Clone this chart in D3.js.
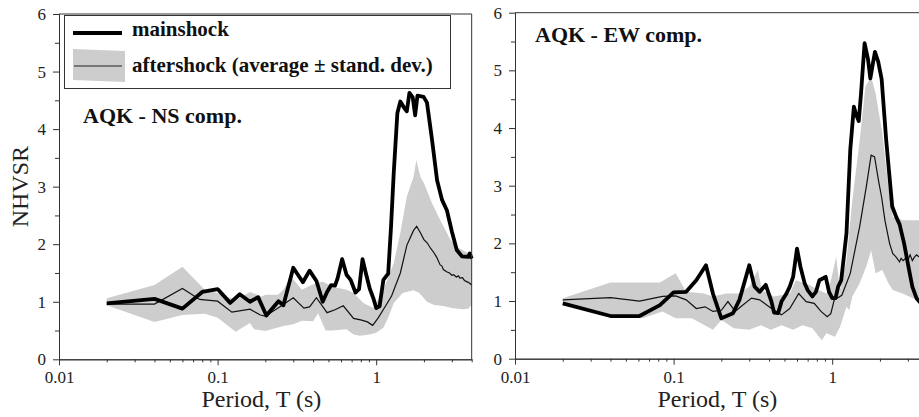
<!DOCTYPE html>
<html>
<head>
<meta charset="utf-8">
<script src="https://cdn.jsdelivr.net/npm/d3@7"></script>
<style>
  body { margin: 0; background: #fff; }
  svg { display: block; font-family: "Liberation Serif", "Times New Roman", serif; }
</style>
</head>
<body>
<svg id="chart" width="919" height="417"></svg>
<script>
// ---- data: [period T (s), NHVSR] ----
var nsMain = [[0.02,0.97],[0.04,1.05],[0.06,0.88],[0.08,1.17],[0.1,1.22],[0.12,0.98],[0.138,1.13],[0.16,1.0],[0.18,1.08],[0.203,0.76],[0.242,1.01],[0.26,0.94],[0.3,1.59],[0.345,1.34],[0.38,1.54],[0.42,1.36],[0.46,1.0],[0.49,1.17],[0.52,1.29],[0.55,1.28],[0.57,1.4],[0.61,1.74],[0.65,1.47],[0.69,1.38],[0.74,1.16],[0.78,1.22],[0.82,1.74],[0.86,1.5],[0.91,1.23],[0.96,1.06],[1.0,0.89],[1.05,0.92],[1.11,1.38],[1.19,1.49],[1.24,2.3],[1.29,3.24],[1.36,4.28],[1.42,4.48],[1.5,4.37],[1.56,4.31],[1.62,4.63],[1.7,4.55],[1.76,4.24],[1.82,4.58],[1.99,4.56],[2.09,4.46],[2.25,3.81],[2.42,3.11],[2.6,2.77],[2.79,2.59],[3.0,2.22],[3.22,1.9],[3.47,1.79],[3.8,1.78],[3.89,1.84],[4.0,1.75]];
var nsAfterMean = [[0.02,0.96],[0.04,0.96],[0.06,1.23],[0.077,1.04],[0.1,1.01],[0.123,0.82],[0.16,0.87],[0.186,0.77],[0.2,0.75],[0.246,0.91],[0.3,1.07],[0.35,0.89],[0.38,0.91],[0.42,1.07],[0.49,0.81],[0.55,0.86],[0.62,0.93],[0.72,0.71],[0.81,0.68],[0.88,0.65],[0.95,0.59],[1.03,0.72],[1.13,0.9],[1.25,1.1],[1.42,1.5],[1.56,1.98],[1.72,2.24],[1.8,2.31],[1.9,2.2],[2.0,2.08],[2.1,2.02],[2.2,1.93],[2.3,1.86],[2.4,1.78],[2.53,1.64],[2.6,1.62],[2.65,1.56],[2.78,1.52],[2.9,1.5],[3.0,1.46],[3.08,1.47],[3.2,1.43],[3.3,1.45],[3.37,1.41],[3.5,1.42],[3.6,1.37],[3.72,1.35],[3.85,1.33],[4.0,1.29]];
var nsBandUpper = [[0.02,1.06],[0.04,1.29],[0.06,1.61],[0.083,1.21],[0.1,1.15],[0.13,1.03],[0.16,1.17],[0.19,1.09],[0.2,1.12],[0.24,1.12],[0.26,1.21],[0.29,1.44],[0.34,1.21],[0.39,1.29],[0.46,1.35],[0.53,1.26],[0.65,1.21],[0.72,1.15],[0.83,0.98],[0.96,0.89],[1.11,1.21],[1.29,1.67],[1.42,2.2],[1.56,2.83],[1.72,3.17],[1.79,3.46],[1.9,3.17],[2.0,3.06],[2.25,2.71],[2.53,2.42],[2.95,2.07],[3.2,1.96],[4.0,1.81]];
var nsBandLower = [[0.02,0.94],[0.04,0.65],[0.06,0.77],[0.083,0.79],[0.1,0.72],[0.13,0.48],[0.16,0.63],[0.17,0.52],[0.2,0.49],[0.26,0.58],[0.3,0.61],[0.34,0.67],[0.4,0.66],[0.43,0.8],[0.48,0.5],[0.53,0.5],[0.65,0.52],[0.72,0.43],[0.79,0.41],[0.91,0.43],[1.0,0.46],[1.11,0.55],[1.2,0.75],[1.29,0.98],[1.47,1.15],[1.72,1.2],[1.87,1.15],[2.09,1.0],[2.3,0.95],[2.7,0.92],[3.0,0.89],[3.5,0.87],[3.8,0.88],[4.0,0.95]];

var ewMain = [[0.02,0.96],[0.04,0.74],[0.061,0.74],[0.082,0.93],[0.1,1.15],[0.12,1.16],[0.139,1.36],[0.16,1.62],[0.177,1.13],[0.2,0.7],[0.237,0.79],[0.26,1.02],[0.3,1.62],[0.324,1.25],[0.349,1.16],[0.381,1.28],[0.414,0.99],[0.43,0.8],[0.456,0.79],[0.479,0.99],[0.515,1.13],[0.54,1.25],[0.567,1.42],[0.6,1.91],[0.63,1.6],[0.67,1.31],[0.7,1.19],[0.75,1.08],[0.79,1.16],[0.83,1.36],[0.91,1.42],[0.955,1.16],[1.0,1.05],[1.05,1.05],[1.09,1.25],[1.14,1.36],[1.23,2.17],[1.3,3.62],[1.37,4.37],[1.42,4.22],[1.47,4.12],[1.52,4.6],[1.6,5.47],[1.68,5.2],[1.74,4.86],[1.8,5.1],[1.86,5.32],[1.95,5.15],[2.05,4.85],[2.19,3.79],[2.39,2.64],[2.54,2.45],[2.66,2.33],[2.84,2.0],[3.0,1.65],[3.2,1.25],[3.4,1.05],[3.6,0.97],[4.0,0.95]];
var ewAfterMean = [[0.02,1.02],[0.04,1.06],[0.061,1.0],[0.085,1.08],[0.103,1.09],[0.12,1.02],[0.139,0.87],[0.158,0.9],[0.177,0.82],[0.2,0.84],[0.22,0.99],[0.245,0.82],[0.265,0.9],[0.31,1.05],[0.349,1.02],[0.414,0.87],[0.479,0.76],[0.54,0.87],[0.615,1.13],[0.685,0.99],[0.77,0.96],[0.85,0.82],[0.93,0.73],[0.98,0.78],[1.03,1.02],[1.15,1.1],[1.3,1.48],[1.49,2.29],[1.64,2.98],[1.76,3.53],[1.85,3.5],[1.97,3.05],[2.05,2.8],[2.15,2.4],[2.3,2.0],[2.41,1.82],[2.5,1.78],[2.55,1.75],[2.66,1.68],[2.72,1.74],[2.8,1.7],[2.9,1.74],[3.0,1.71],[3.1,1.8],[3.2,1.7],[3.3,1.76],[3.4,1.8],[3.6,1.75],[4.0,1.78]];
var ewBandUpper = [[0.02,1.05],[0.04,1.32],[0.082,1.32],[0.103,1.48],[0.12,1.16],[0.155,1.13],[0.177,1.08],[0.215,1.13],[0.26,1.13],[0.3,1.25],[0.34,1.54],[0.36,1.19],[0.43,1.08],[0.54,1.13],[0.59,1.36],[0.72,1.28],[0.82,1.19],[0.92,1.13],[0.98,1.35],[1.06,1.77],[1.12,1.19],[1.23,1.71],[1.34,2.75],[1.49,3.79],[1.62,4.72],[1.76,4.89],[1.88,4.6],[2.07,3.91],[2.26,2.98],[2.41,2.46],[2.79,2.4],[4.0,2.4]];
var ewBandLower = [[0.02,0.99],[0.04,0.73],[0.064,0.7],[0.085,0.82],[0.103,0.7],[0.13,0.7],[0.177,0.5],[0.2,0.67],[0.24,0.53],[0.3,0.5],[0.355,0.58],[0.41,0.5],[0.48,0.58],[0.567,0.5],[0.65,0.58],[0.75,0.53],[0.86,0.32],[0.92,0.44],[1.04,0.38],[1.12,0.55],[1.23,0.9],[1.28,0.84],[1.34,1.08],[1.49,1.31],[1.64,1.6],[1.76,1.88],[1.88,1.48],[2.07,1.54],[2.26,1.31],[2.41,1.19],[2.77,1.13],[3.43,1.02],[4.0,1.0]];

var xMajor = [0.01, 0.1, 1];
var xMinor = [0.02,0.03,0.04,0.05,0.06,0.07,0.08,0.09,0.2,0.3,0.4,0.5,0.6,0.7,0.8,0.9,2,3,4];
var xLabels = ['0.01', '0.1', '1'];
var yMajor = [0, 1, 2, 3, 4, 5, 6];
var yMinor = [0.5, 1.5, 2.5, 3.5, 4.5, 5.5];
var legendLabels = ['mainshock', 'aftershock (average \u00b1 stand. dev.)'];

var panels = [
    { left: 59, top: 14, bottom: 359.3, title: 'AQK - NS comp.', tx: 83, ty: 123,
      main: nsMain, mean: nsAfterMean, upper: nsBandUpper, lower: nsBandLower, legend: true, ylabel: true },
    { left: 515, top: 12.7, bottom: 358.7, title: 'AQK - EW comp.', tx: 535, ty: 42,
      main: ewMain, mean: ewAfterMean, upper: ewBandUpper, lower: ewBandLower, legend: false, ylabel: false }
];

var svg = d3.select('#chart');
var axisColor = '#333';
var decade = 158.6;

panels.forEach(function(p) {
    var x = d3.scaleLog().domain([0.01, 4]).range([p.left, p.left + decade * Math.log10(400)]);
    var y = d3.scaleLinear().domain([0, 6]).range([p.bottom, p.top]);
    var g = svg.append('g');

    var line = d3.line()
        .x(function(d) { return x(d[0]); })
        .y(function(d) { return y(d[1]); });

    // std-dev band
    var band = p.upper.concat(p.lower.slice().reverse());
    g.append('path')
        .attr('d', line(band) + 'Z')
        .attr('fill', '#cdcdcd')
        .attr('stroke', 'none');

    g.append('path')
        .attr('d', line(p.mean))
        .attr('fill', 'none')
        .attr('stroke', '#111')
        .attr('stroke-width', 1.2);

    g.append('path')
        .attr('d', line(p.main))
        .attr('fill', 'none')
        .attr('stroke', '#000')
        .attr('stroke-width', 3.8)
        .attr('stroke-linejoin', 'round');

    // frame top + right
    g.append('path')
        .attr('d', 'M' + x.range()[0] + ',' + p.top + 'H' + x.range()[1] + 'V' + p.bottom)
        .attr('fill', 'none')
        .attr('stroke', axisColor)
        .attr('stroke-width', 1);

    // axes
    var xMinAx = g.append('g').attr('transform', 'translate(0,' + p.bottom + ')')
        .call(d3.axisBottom(x).tickValues(xMinor).tickSize(3).tickSizeOuter(0).tickFormat(''));
    var xAx = g.append('g').attr('transform', 'translate(0,' + p.bottom + ')')
        .call(d3.axisBottom(x).tickValues(xMajor).tickSize(6).tickSizeOuter(0).tickPadding(6)
            .tickFormat(function(d, i) { return xLabels[i]; }));
    var yMinAx = g.append('g').attr('transform', 'translate(' + p.left + ',0)')
        .call(d3.axisLeft(y).tickValues(yMinor).tickSize(4).tickSizeOuter(0).tickFormat(''));
    var yAx = g.append('g').attr('transform', 'translate(' + p.left + ',0)')
        .call(d3.axisLeft(y).tickValues(yMajor).tickSize(6).tickSizeOuter(0).tickPadding(7)
            .tickFormat(d3.format('d')));

    [xMinAx, xAx, yMinAx, yAx].forEach(function(a) {
        a.attr('color', axisColor);
        a.selectAll('text')
            .attr('fill', '#222')
            .style('font-size', '17px')
            .style('font-family', '"Liberation Serif", serif');
    });

    // x axis title
    g.append('text')
        .attr('x', (x.range()[0] + x.range()[1]) / 2 - 4)
        .attr('y', 407)
        .attr('text-anchor', 'middle')
        .style('font-size', '24px')
        .attr('fill', '#222')
        .text('Period, T (s)');

    if (p.ylabel) {
        g.append('text')
            .attr('transform', 'translate(28,' + (p.top + p.bottom) / 2 + ') rotate(-90)')
            .attr('text-anchor', 'middle')
            .style('font-size', '24px')
            .attr('fill', '#222')
            .text('NHVSR');
    }

    g.append('text')
        .attr('x', p.tx)
        .attr('y', p.ty)
        .style('font-size', '22px')
        .style('font-weight', 'bold')
        .attr('fill', '#111')
        .text(p.title);

    if (p.legend) {
        var lg = g.append('g');
        lg.append('rect')
            .attr('x', 64.5).attr('y', 15.5).attr('width', 386).attr('height', 73)
            .attr('fill', '#fff').attr('stroke', axisColor).attr('stroke-width', 1);
        lg.append('line')
            .attr('x1', 73).attr('x2', 122).attr('y1', 33).attr('y2', 33)
            .attr('stroke', '#000').attr('stroke-width', 3.8);
        lg.append('path')
            .attr('d', 'M73,49L125,51L125,82L73,80Z')
            .attr('fill', '#cdcdcd');
        lg.append('line')
            .attr('x1', 74).attr('x2', 122).attr('y1', 66).attr('y2', 66)
            .attr('stroke', '#222').attr('stroke-width', 1.2);
        lg.selectAll('text.lab')
            .data(legendLabels)
            .enter().append('text')
            .attr('class', 'lab')
            .attr('x', 132)
            .attr('y', function(d, i) { return i === 0 ? 36 : 72; })
            .style('font-size', '21px')
            .style('font-weight', 'bold')
            .attr('fill', '#111')
            .text(function(d) { return d; });
    }
});
</script>
</body>
</html>
